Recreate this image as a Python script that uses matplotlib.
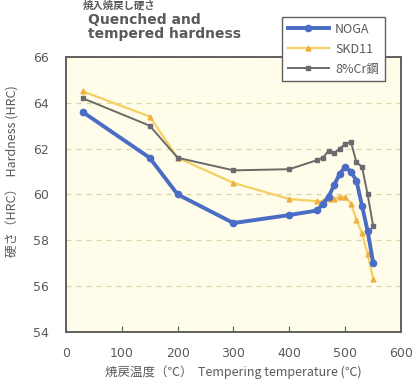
import matplotlib
matplotlib.use("Agg")
import matplotlib.pyplot as plt

plt.rcParams['font.family'] = ['DejaVu Sans', 'Noto Sans CJK JP']

noga_t = [30, 150, 200, 300, 400, 450, 460, 470, 480, 490, 500, 510, 520, 530, 540, 550]
noga_h = [63.6, 61.6, 60.0, 58.75, 59.1, 59.3, 59.6, 59.9, 60.4, 60.9, 61.2, 61.0, 60.6, 59.5, 58.4, 57.0]

skd_t = [30, 150, 200, 300, 400, 450, 460, 470, 480, 490, 500, 510, 520, 530, 540, 550]
skd_h = [64.5, 63.4, 61.6, 60.5, 59.8, 59.7, 59.7, 59.8, 59.8, 59.9, 59.9, 59.6, 58.9, 58.3, 57.4, 56.3]

cr_t = [30, 150, 200, 300, 400, 450, 460, 470, 480, 490, 500, 510, 520, 530, 540, 550]
cr_h = [64.2, 63.0, 61.6, 61.05, 61.1, 61.5, 61.6, 61.9, 61.8, 62.0, 62.2, 62.3, 61.4, 61.2, 60.0, 58.6]

labels = ['NOGA', 'SKD11', '8%Cr鋼']
xticks = [0, 100, 200, 300, 400, 500, 600]
yticks = [54, 56, 58, 60, 62, 64, 66]

cjk = ['Noto Sans CJK JP', 'DejaVu Sans']
gray = '#5a5a5a'

fig = plt.figure(figsize=(4.14, 3.9), dpi=100)
ax = fig.add_axes([0.159, 0.149, 0.810, 0.705])
ax.set_facecolor('#fffde9')

ax.plot(skd_t, skd_h, color='#f5cf62', lw=1.6, marker='^', ms=3.5,
        markerfacecolor='#f0b040', markeredgecolor='#f0b040', label=labels[1], zorder=3)
ax.plot(cr_t, cr_h, color='#6a6a66', lw=1.4, marker='s', ms=3.5,
        markerfacecolor='#6a6a70', markeredgecolor='#6a6a70', label=labels[2], zorder=4)
ax.plot(noga_t, noga_h, color='#4a6cc4', lw=2.8, marker='o', ms=4.5,
        markerfacecolor='#4a6cc4', markeredgecolor='#4a6cc4', label=labels[0], zorder=5)

ax.set_xlim(0, 600)
ax.set_ylim(54, 66)
ax.set_xticks(xticks)
ax.set_yticks(yticks)
ax.tick_params(axis='x', direction='in', length=4, colors=gray, labelsize=9, pad=11)
ax.tick_params(axis='y', length=0, colors=gray, labelsize=9, pad=12)
ax.yaxis.grid(True, linestyle=(0, (4, 4)), color='#d8d3a8', lw=0.9)
for s in ax.spines.values():
    s.set_color('#606060')
    s.set_linewidth(1.4)

ax.set_xlabel('焼戻温度（℃）  Tempering temperature (℃)', color=gray, fontsize=9,
              family=cjk, labelpad=4)
ax.set_ylabel('硬さ（HRC）  Hardness (HRC)', color=gray, fontsize=9, family=cjk)
ax.yaxis.set_label_coords(-0.137, 0.585)

h, l = ax.get_legend_handles_labels()
order = [2, 0, 1]
leg = fig.legend([h[i] for i in order], [l[i] for i in order],
                 loc='upper right', bbox_to_anchor=(0.944, 0.972),
                 frameon=True, fancybox=False, edgecolor='#606060', framealpha=1,
                 handlelength=3.3, borderpad=0.45, labelspacing=0.55, handletextpad=0.5,
                 prop={'family': cjk, 'size': 9})
for t in leg.get_texts():
    t.set_color(gray)
leg.get_frame().set_linewidth(1.0)

fig.text(0.213, 0.931, 'Quenched and\ntempered hardness', fontsize=10, fontweight='bold',
         color=gray, ha='left', va='center', linespacing=1.0)
fig.text(0.20, 0.985, '焼入焼戻し硬さ', fontsize=7.5, fontweight='bold', color=gray,
         ha='left', va='center', family=cjk)

fig.savefig('out.png', dpi=100)
